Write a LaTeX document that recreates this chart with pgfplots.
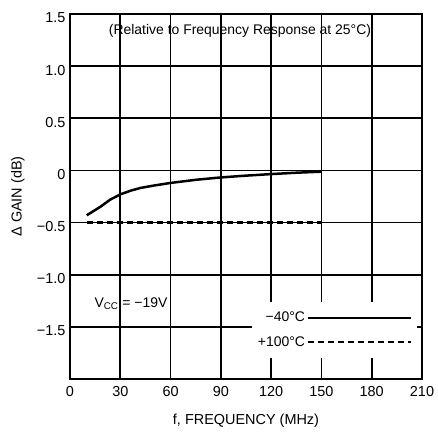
\documentclass[border=0pt]{standalone}
\usepackage{fontspec}
\setmainfont{Liberation Sans}
\usepackage{pgfplots}
\pgfplotsset{compat=1.18}
\begin{document}
\begin{tikzpicture}
\useasboundingbox (-70bp,-55bp) rectangle (368bp,379bp);
\begin{axis}[
  at={(0,0)}, anchor=south west,
  scale only axis, width=352bp, height=365bp,
  xmin=0, xmax=210, ymin=-2, ymax=1.5,
  xtick={0,30,60,90,120,150,180,210},
  xticklabels={0,30,60,90,120,150,180,210},
  ytick={-2,-1.5,-1,-0.5,0,0.5,1,1.5},
  yticklabels={,−1.5,−1.0,−0.5,0,0.5,1.0,1.5},
  grid=major,
  major grid style={black, line width=1.8bp},
  axis line style={black, line width=2.2bp},
  tick style={draw=none},
  font=\fontsize{14.5}{16}\selectfont,
  yticklabel style={yshift=-4bp, xshift=-1bp},
  xticklabel style={yshift=-4bp},
  xlabel={f, FREQUENCY (MHz)},
  ylabel={Δ GAIN (dB)},
  xlabel style={at={(axis description cs:0.5,0)}, anchor=center, yshift=-42bp},
  ylabel style={at={(axis description cs:-0.148,0.5)}, anchor=center, rotate=0},
  legend plot pos=right,
  legend cell align=right,
  legend style={at={(axis description cs:0.985,0.211)}, anchor=north east,
    fill=white, draw=none, font=\fontsize{14}{16}\selectfont,
    row sep=9bp, inner xsep=4bp, inner ysep=8bp},
  legend image code/.code={\draw[#1] (0bp,0bp) -- (103bp,0bp);},
]
\addplot[black, line width=2.5bp] coordinates {
  (10,-0.43) (14,-0.39) (18,-0.35) (24,-0.28) (30,-0.23) (36,-0.195)
  (42,-0.168) (50,-0.145) (60,-0.12) (75,-0.09) (90,-0.067)
  (105,-0.05) (120,-0.035) (135,-0.022) (150,-0.012)
};
\addlegendentry{−40°C}
\addplot[black, line width=2.5bp, dash pattern=on 6bp off 4bp] coordinates {
  (10,-0.5) (30,-0.5) (60,-0.5) (90,-0.5) (120,-0.5) (150,-0.5)
};
\addlegendentry{+100°C}
\node[font=\fontsize{14}{16}\selectfont] at (axis cs:101.4,1.339)
  {(Relative to Frequency Response at 25°C)};
\node[font=\fontsize{14}{16}\selectfont] at (axis cs:36.4,-1.28)
  {V\textsubscript{CC} = −19V};
\end{axis}
\end{tikzpicture}
\end{document}
